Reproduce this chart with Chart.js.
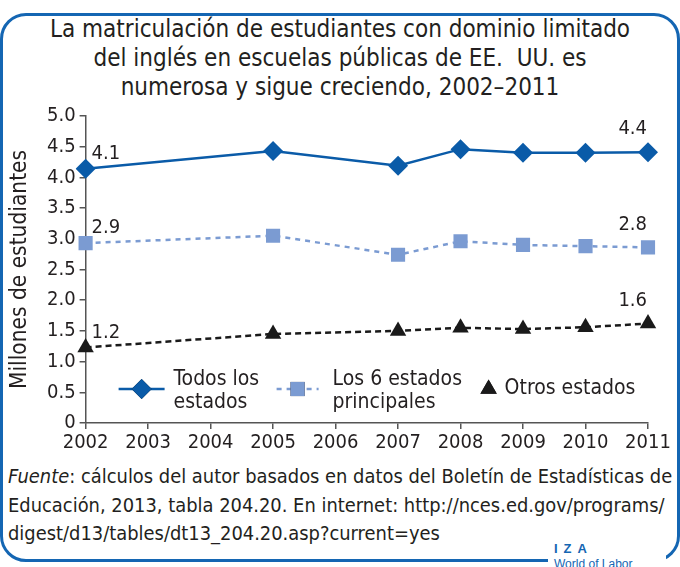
<!DOCTYPE html>
<html>
<head>
<meta charset="utf-8">
<script src="https://cdn.jsdelivr.net/npm/chart.js@4.4.1/dist/chart.umd.min.js"></script>
<style>
  html, body { margin: 0; padding: 0; background: #fff; }
  body { width: 680px; height: 567px; position: relative; overflow: hidden;
         font-family: "Liberation Sans Narrow", "Arial Narrow", "DejaVu Sans Condensed", sans-serif; color: #231f20; }
  .frame { position: absolute; left: 0; top: 13px; width: 674px; height: 543px;
           border: 3px solid #1466b3; border-radius: 26px; }
  .title { position: absolute; left: 0; top: 15px; width: 680px; text-align: center;
           font-size: 24px; line-height: 29px; }
  canvas { position: absolute; left: 0; top: 0; }
  .source { position: absolute; left: 8px; top: 463px; width: 675px; white-space: nowrap;
            font-size: 19.9px; line-height: 28.5px; }
  .iza { position: absolute; left: 548px; top: 541px; width: 118px; height: 30px; background: #fff;
         color: #1466b3; font-family: "Liberation Sans", Arial, sans-serif; }
  .iza b { display: block; font-size: 13px; letter-spacing: 6px; margin-left: 6px; }
  .iza span { display: block; font-size: 12px; margin-left: 6px; margin-top: 1px; }
</style>
</head>
<body>
<div class="frame"></div>
<div class="title">La matriculación de estudiantes con dominio limitado<br>del inglés en escuelas públicas de EE.&nbsp; UU. es<br>numerosa y sigue creciendo, 2002–2011</div>
<canvas id="chart" width="680" height="460"></canvas>
<div class="source"><i>Fuente</i>: cálculos del autor basados en datos del Boletín de Estadísticas de<br>Educación, 2013, tabla 204.20. En internet: http://nces.ed.gov/programs/<br>digest/d13/tables/dt13_204.20.asp?current=yes</div>
<div class="iza"><b>IZA</b><span>World of Labor</span></div>
<script>
  "use strict";

  const years = ["2002", "2003", "2004", "2005", "2006", "2007", "2008", "2009", "2010", "2011"];
  const todos = [4.14, null, null, 4.43, null, 4.19, 4.46, 4.40, 4.40, 4.41];
  const seis = [2.93, null, null, 3.05, null, 2.74, 2.96, 2.90, 2.88, 2.86];
  const otros = [1.23, null, null, 1.45, null, 1.50, 1.55, 1.53, 1.56, 1.62];
  const endLabels = [["4.1", "4.4"], ["2.9", "2.8"], ["1.2", "1.6"]];
  const legendLabels = [["Todos los", "estados"], ["Los 6 estados", "principales"], ["Otros estados"]];

  const FONT = "'Liberation Sans Narrow', 'Arial Narrow', 'DejaVu Sans Condensed', sans-serif";
  const TEXT = "#231f20";
  const AXIS = "#555";

  const endLabelPlugin = {
    id: "endLabels",
    afterDatasetsDraw(chart) {
      const ctx = chart.ctx;
      ctx.save();
      ctx.font = "20px " + FONT;
      ctx.fillStyle = TEXT;
      ctx.textBaseline = "middle";
      chart.data.datasets.forEach((ds, i) => {
        const pts = chart.getDatasetMeta(i).data;
        const first = pts[0];
        const last = pts[pts.length - 1];
        ctx.textAlign = "left";
        ctx.fillText(endLabels[i][0], first.x + 6, first.y - 15);
        ctx.textAlign = "right";
        ctx.fillText(endLabels[i][1], last.x - 1, last.y - 23);
      });
      ctx.restore();
    }
  };

  const legendPlugin = {
    id: "innerLegend",
    afterDraw(chart) {
      const ctx = chart.ctx;
      const area = chart.chartArea;
      const y = area.bottom - 34;
      const items = [
        { x: area.left + 33, w: 46, textX: area.left + 88 },
        { x: area.left + 191, w: 42, textX: area.left + 247 },
        { x: area.left + 403, w: 0, textX: area.left + 419 }
      ];
      ctx.save();
      chart.data.datasets.forEach((ds, i) => {
        const it = items[i];
        if (it.w > 0) {
          ctx.strokeStyle = ds.borderColor;
          ctx.lineWidth = ds.borderWidth;
          ctx.setLineDash(ds.borderDash || []);
          ctx.beginPath();
          ctx.moveTo(it.x, y);
          ctx.lineTo(it.x + it.w, y);
          ctx.stroke();
        }
        ctx.setLineDash([]);
        Chart.helpers.drawPoint(ctx, {
          pointStyle: ds.pointStyle,
          radius: ds.pointRadius,
          borderWidth: 0
        }, it.x + it.w / 2, y);
        ctx.fillStyle = ds.pointBackgroundColor;
        ctx.fill();
        ctx.fillStyle = TEXT;
        ctx.font = "21px " + FONT;
        ctx.textAlign = "left";
        ctx.textBaseline = "middle";
        const lines = legendLabels[i];
        if (lines.length === 1) {
          ctx.fillText(lines[0], it.textX, y);
        } else {
          ctx.fillText(lines[0], it.textX, y - 9);
          ctx.fillText(lines[1], it.textX, y + 14);
        }
      });
      ctx.restore();
    }
  };

  new Chart(document.getElementById("chart"), {
    type: "line",
    data: {
      labels: years,
      datasets: [
        {
          label: "Todos los estados",
          data: todos,
          borderColor: "#0a5ba8",
          backgroundColor: "#0a5ba8",
          pointBackgroundColor: "#0a5ba8",
          borderWidth: 2.5,
          pointStyle: "rectRot",
          pointRadius: 10,
          pointBorderWidth: 0,
          spanGaps: true
        },
        {
          label: "Los 6 estados principales",
          data: seis,
          borderColor: "#7b9bd2",
          backgroundColor: "#7b9bd2",
          pointBackgroundColor: "#7b9bd2",
          borderWidth: 2.5,
          borderDash: [5, 5],
          pointStyle: "rect",
          pointRadius: 10,
          pointBorderWidth: 0,
          spanGaps: true
        },
        {
          label: "Otros estados",
          data: otros,
          borderColor: "#1a1a1a",
          backgroundColor: "#1a1a1a",
          pointBackgroundColor: "#1a1a1a",
          borderWidth: 2.5,
          borderDash: [6, 4],
          pointStyle: "triangle",
          pointRadius: 9.5,
          pointBorderWidth: 0,
          spanGaps: true
        }
      ]
    },
    options: {
      responsive: false,
      animation: false,
      layout: { padding: { top: 116, left: 7, right: 32, bottom: 3 } },
      plugins: {
        legend: { display: false },
        tooltip: { enabled: false }
      },
      scales: {
        x: {
          offset: false,
          grid: { drawOnChartArea: false, color: AXIS, tickLength: 6, lineWidth: 1.5 },
          border: { color: AXIS, width: 1.5 },
          ticks: { color: TEXT, font: { family: FONT, size: 20 }, maxRotation: 0, autoSkip: false, padding: 2 }
        },
        y: {
          min: 0,
          max: 5,
          grid: { drawOnChartArea: false, color: AXIS, tickLength: 6, lineWidth: 1.5 },
          border: { color: AXIS, width: 1.5 },
          ticks: {
            stepSize: 0.5,
            color: TEXT,
            font: { family: FONT, size: 20 },
            padding: 4,
            callback: (v) => (v === 0 ? "0" : v.toFixed(1))
          },
          title: {
            display: true,
            text: "Millones de estudiantes",
            color: TEXT,
            font: { family: FONT, size: 22.5 },
            padding: { top: 0, bottom: 9 }
          }
        }
      }
    },
    plugins: [endLabelPlugin, legendPlugin]
  });
</script>
</body>
</html>
